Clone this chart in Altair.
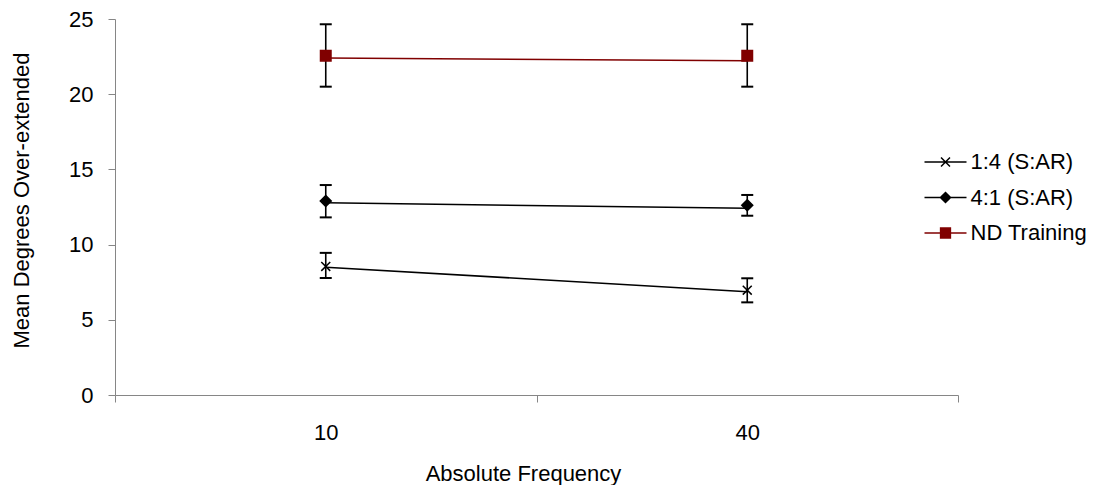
import altair as alt
import pandas as pd

series = ["1:4 (S:AR)", "4:1 (S:AR)", "ND Training"]
frequencies = ["10", "40"]

# values read at the markers
marker_means = {
    "1:4 (S:AR)": [8.55, 6.97],
    "4:1 (S:AR)": [12.9, 12.62],
    "ND Training": [22.56, 22.56],
}
# values read at the ends of the connecting lines
line_means = {
    "1:4 (S:AR)": [8.5, 6.87],
    "4:1 (S:AR)": [12.78, 12.41],
    "ND Training": [22.4, 22.22],
}
err_low = {
    "1:4 (S:AR)": [7.78, 6.16],
    "4:1 (S:AR)": [11.81, 11.92],
    "ND Training": [20.5, 20.5],
}
err_high = {
    "1:4 (S:AR)": [9.45, 7.76],
    "4:1 (S:AR)": [13.96, 13.3],
    "ND Training": [24.65, 24.65],
}
y_ticks = [0, 5, 10, 15, 20, 25]

colors = ["#000000", "#000000", "#800000"]
marker_paths = [
    "M-0.64,-0.64L0.64,0.64M-0.64,0.64L0.64,-0.64",
    "M0,-0.78L0.78,0L0,0.78L-0.78,0Z",
    "M-0.75,-0.75L0.75,-0.75L0.75,0.75L-0.75,0.75Z",
]
legend_paths = [
    "M-3,0L3,0M-0.64,-0.64L0.64,0.64M-0.64,0.64L0.64,-0.64",
    "M-3,0L3,0M0,-0.72L0.72,0L0,0.72L-0.72,0Z",
    "M-3,0L3,0M-0.7,-0.7L0.7,-0.7L0.7,0.7L-0.7,0.7Z",
]

rows = []
for s in series:
    for i, f in enumerate(frequencies):
        rows.append({
            "series": s,
            "freq": f,
            "mean": marker_means[s][i],
            "line_mean": line_means[s][i],
            "lo": err_low[s][i],
            "hi": err_high[s][i],
        })
df = pd.DataFrame(rows)

FONT = "Liberation Sans"
FS = 22
AXIS_GRAY = "#868686"

x_enc = alt.X(
    "freq:N",
    sort=frequencies,
    bandPosition=0.5,
    scale=alt.Scale(type="band", domain=frequencies, paddingInner=0, paddingOuter=0),
    axis=alt.Axis(
        title="Absolute Frequency",
        tickBand="extent",
        labelAngle=0,
        domainColor=AXIS_GRAY,
        tickColor=AXIS_GRAY,
        tickSize=7,
        labelFont=FONT,
        labelFontSize=FS,
        labelColor="black",
        labelBaseline="middle",
        labelPadding=30,
        titleFont=FONT,
        titleFontSize=FS,
        titleFontWeight="normal",
        titleColor="black",
        titleX=408,
        titleY=78,
        titleBaseline="middle",
        grid=False,
    ),
)

y_axis = alt.Axis(
    title="Mean Degrees Over-extended",
    values=y_ticks,
    domainColor=AXIS_GRAY,
    tickColor=AXIS_GRAY,
    tickSize=7,
    labelFont=FONT,
    labelFontSize=FS,
    labelColor="black",
    labelPadding=15,
    titleFont=FONT,
    titleFontSize=FS,
    titleFontWeight="normal",
    titleColor="black",
    titleAngle=-90,
    titleX=-94,
    titleY=181,
    titleBaseline="middle",
    grid=False,
)
y_scale = alt.Scale(domain=[0, 25], nice=False, zero=True)

base = alt.Chart(df)

lines = base.mark_line(strokeWidth=1.5).encode(
    x=x_enc,
    y=alt.Y("line_mean:Q", scale=y_scale, axis=y_axis),
    stroke=alt.Stroke("series:N", scale=alt.Scale(domain=series, range=colors), legend=None),
)

rules = base.mark_rule(color="black", strokeWidth=1.6).encode(
    x=x_enc,
    y=alt.Y("lo:Q", scale=y_scale, axis=y_axis),
    y2="hi:Q",
)

cap_shape = "M-1,0L1,0"
caps_lo = base.mark_point(shape=cap_shape, size=144, filled=False, color="black",
                          strokeWidth=2, opacity=1).encode(
    x=x_enc, y=alt.Y("lo:Q", scale=y_scale, axis=y_axis))
caps_hi = base.mark_point(shape=cap_shape, size=144, filled=False, color="black",
                          strokeWidth=2, opacity=1).encode(
    x=x_enc, y=alt.Y("hi:Q", scale=y_scale, axis=y_axis))

markers = base.mark_point(filled=True, opacity=1, size=196, strokeWidth=1.5).encode(
    x=x_enc,
    y=alt.Y("mean:Q", scale=y_scale, axis=y_axis),
    shape=alt.Shape("series:N", scale=alt.Scale(domain=series, range=marker_paths), legend=None),
    fill=alt.Fill("series:N", scale=alt.Scale(domain=series, range=colors), legend=None),
    stroke=alt.Stroke("series:N", scale=alt.Scale(domain=series, range=colors), legend=None),
)

legend_props = dict(
    title=None,
    orient="none",
    legendX=819.5,
    legendY=132,
    padding=0,
    labelFont=FONT,
    labelFontSize=FS,
    labelColor="black",
    labelOffset=14,
    rowPadding=13.5,
    symbolSize=196,
    symbolStrokeWidth=1.5,
)

legend_layer = alt.Chart(pd.DataFrame({"series": series})).transform_filter("false").mark_point(
    filled=True, opacity=1, size=196, strokeWidth=1.5
).encode(
    shape=alt.Shape("series:N", scale=alt.Scale(domain=series, range=legend_paths),
                    legend=alt.Legend(**legend_props)),
    fill=alt.Fill("series:N", scale=alt.Scale(domain=series, range=colors),
                  legend=alt.Legend(**legend_props)),
    stroke=alt.Stroke("series:N", scale=alt.Scale(domain=series, range=colors),
                      legend=alt.Legend(**legend_props)),
)

chart = alt.layer(lines, rules, caps_lo, caps_hi, markers, legend_layer).resolve_scale(
    shape="independent", fill="independent", stroke="independent"
).properties(
    width=843,
    height=376,
    autosize=alt.AutoSizeParams(type="none"),
    padding={"left": 107, "top": 11, "right": 138, "bottom": 90},
).configure(font=FONT).configure_view(stroke="transparent", strokeWidth=0, strokeOpacity=0)

chart.save("out.html", embed_options={"renderer": "svg", "actions": False})
